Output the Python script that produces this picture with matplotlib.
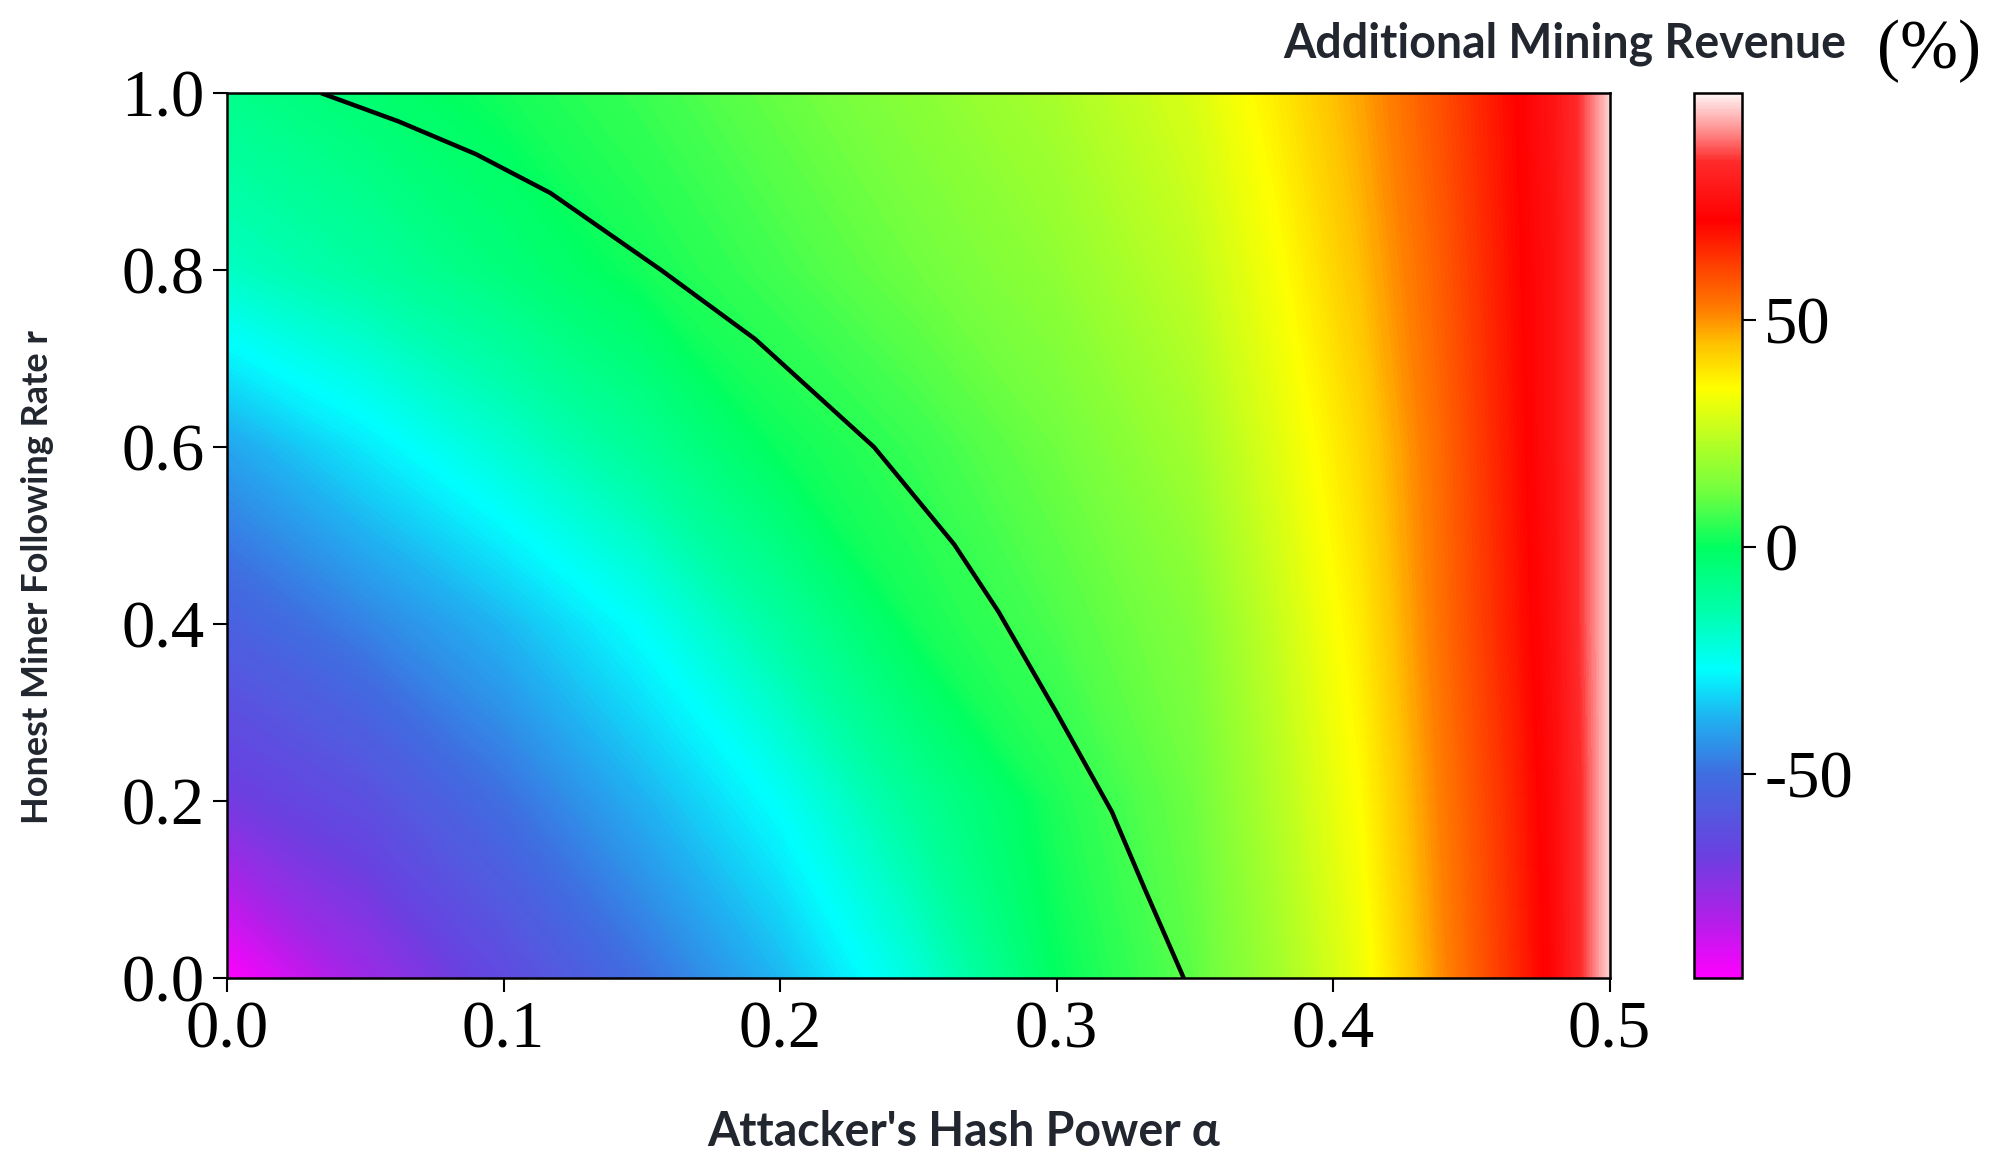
import numpy as np
import matplotlib
matplotlib.use('Agg')
import matplotlib.pyplot as plt
from matplotlib.colors import LinearSegmentedColormap, Normalize
import matplotlib.cm as cm

# grille : puissance de l'attaquant (colonnes) x taux r (lignes)
alpha = [0.0, 0.05, 0.10, 0.15, 0.20, 0.25, 0.30, 0.35, 0.38, 0.41, 0.44, 0.465, 0.48, 0.49, 0.50]
rate = [0.0, 0.2, 0.4, 0.6, 0.8, 1.0]

rev_r00 = [-95, -78, -64, -50, -37, -21, 0, 10, 20, 32, 51, 65, 74, 85, 97]
rev_r02 = [-70, -62, -50, -38, -26, -10, 3, 12, 23, 35, 53, 66, 75, 85, 97]
rev_r04 = [-55, -46, -37, -26, -12, 2, 8, 15, 26, 38, 55, 68, 76, 86, 97]
rev_r06 = [-40, -30, -20, -10, 1, 6, 12, 20, 30, 41, 56, 69, 77, 86, 97]
rev_r08 = [-18, -12, -5, 2, 7, 12, 17, 25, 34, 45, 58, 70, 77, 86, 97]
rev_r10 = [-8, -3, 2, 6, 11, 16, 21, 29, 38, 48, 60, 71, 78, 86, 97]

# courbe noire (seuil)
curve_alpha = [0.034, 0.062, 0.090, 0.117, 0.157, 0.191, 0.234, 0.263, 0.279, 0.300,
               0.320, 0.332, 0.346]
curve_rate = [1.0, 0.968, 0.931, 0.887, 0.800, 0.722, 0.600, 0.490, 0.414, 0.300,
              0.188, 0.100, 0.0]

vmin, vmax = -95, 100
cbar_ticks = [-50, 0, 50]
x_ticks = [0.0, 0.1, 0.2, 0.3, 0.4, 0.5]
y_ticks = [0.0, 0.2, 0.4, 0.6, 0.8, 1.0]

#
# palette arc-en-ciel (magenta -> bleu -> cyan -> vert -> jaune -> rouge -> blanc)
#
anchors = [(-95, '#ff00ff'), (-82, '#b020e8'), (-68, '#6a40e0'), (-50, '#3f6ee0'),
           (-38, '#20b0f0'), (-27, '#00ffff'), (-15, '#00ffb0'), (0, '#00ff60'),
           (12, '#70ff40'), (25, '#c0ff20'), (35, '#ffff00'), (45, '#ffc000'),
           (52, '#ff8000'), (62, '#ff4000'), (72, '#ff0000'), (85, '#ff2a2a'),
           (92, '#ff9090'), (100, '#fff4f4')]
cmap = LinearSegmentedColormap.from_list(
    'rev', [((v - vmin) / (vmax - vmin), c) for v, c in anchors], N=512)
norm = Normalize(vmin=vmin, vmax=vmax)

Z = np.array([rev_r00, rev_r02, rev_r04, rev_r06, rev_r08, rev_r10], dtype=float)
X, Y = np.meshgrid(alpha, rate)

fig = plt.figure(figsize=(20, 11.72), dpi=100)
ax = fig.add_axes([0.1135, 0.1654, 0.6913, 0.7552])

levels = np.linspace(vmin, vmax, 300)
cs = ax.contourf(X, Y, Z, levels=levels, cmap=cmap, norm=norm, antialiased=False)
ax.plot(curve_alpha, curve_rate, color='black', linewidth=3.2,
        solid_joinstyle='round', solid_capstyle='butt')

ax.set_xlim(0, 0.5)
ax.set_ylim(0, 1.0)
ax.set_xticks(x_ticks)
ax.set_yticks(y_ticks)
ax.set_xticklabels(['%.1f' % t for t in x_ticks])
ax.set_yticklabels(['%.1f' % t for t in y_ticks])
ax.tick_params(direction='out', length=10, width=1.5, labelsize=48, pad=6)
for lab in ax.get_xticklabels() + ax.get_yticklabels():
    lab.set_family('Liberation Serif')
for s in ax.spines.values():
    s.set_linewidth(1.8)

# barre de couleur
cax = fig.add_axes([0.847, 0.1654, 0.024, 0.7552])
sm = cm.ScalarMappable(norm=norm, cmap=cmap)
cb = fig.colorbar(sm, cax=cax, ticks=cbar_ticks)
cb.ax.tick_params(direction='out', length=10, width=1.5, labelsize=48, pad=6)
cb.ax.set_yticklabels(['-50', '0', '50'])
for lab in cb.ax.get_yticklabels():
    lab.set_family('Liberation Serif')
cb.outline.set_linewidth(1.8)

# légendes
txt_color = '#22262e'
fig.text(0.482, 0.034, "Attacker's Hash Power α", ha='center', va='center',
         fontsize=33.5, fontweight='bold', family='Lato', color=txt_color)
fig.text(0.019, 0.508, 'Honest Miner Following Rate r', ha='center', va='center',
         rotation=90, fontsize=26, fontweight='bold', family='Lato', color=txt_color)
fig.text(0.7825, 0.963, 'Additional Mining Revenue', ha='center', va='center',
         fontsize=33.5, fontweight='bold', family='Lato', color=txt_color)
fig.text(0.9645, 0.956, '(%)', ha='center', va='center',
         fontsize=50, family='Liberation Serif', color='black')

plt.savefig('out.png', dpi=100)
